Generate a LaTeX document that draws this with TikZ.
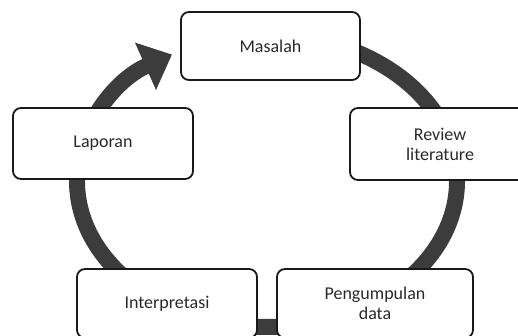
\documentclass[tikz,border=0pt]{standalone}
\usepackage{fontspec}
\setmainfont{Carlito}
\usetikzlibrary{arrows.meta}
\definecolor{ringgray}{HTML}{3C3C3C}
\definecolor{textgray}{HTML}{2A2A2A}
\begin{document}
\begin{tikzpicture}[x=1pt,y=1pt,
  stagebox/.style={draw=black!90, line width=1.8pt, rounded corners=8pt, fill=white,
    minimum width=180pt, minimum height=70pt, align=center, inner sep=0pt,
    font=\fontsize{18}{20}\selectfont, text=textgray},
  ring/.style={draw=ringgray, line width=16pt,
    -{Triangle[length=29pt,width=50pt]}}]
\useasboundingbox (0,0) rectangle (518,336);
\clip (0,0) rectangle (518,336);
\coordinate (c) at (267,155);
\coordinate (ringstart) at (267,301);
\draw[ring] (ringstart) arc[start angle=90, end angle=-240, x radius=190pt, y radius=146pt];
\node[stagebox, minimum width=179pt, minimum height=68pt] (masalah) at (270.5,290) {Masalah};
\node[stagebox, minimum height=71pt] (laporan) at (103,192.5) {Laporan};
\node[stagebox, minimum height=72pt] (review) at (440,192) {Review\\literature};
\node[stagebox, minimum height=69pt] (interp) at (167,32.5) {Interpretasi};
\node[stagebox, minimum width=196pt, minimum height=69pt] (kumpul) at (375,32.5) {Pengumpulan\\data};
\end{tikzpicture}
\end{document}
